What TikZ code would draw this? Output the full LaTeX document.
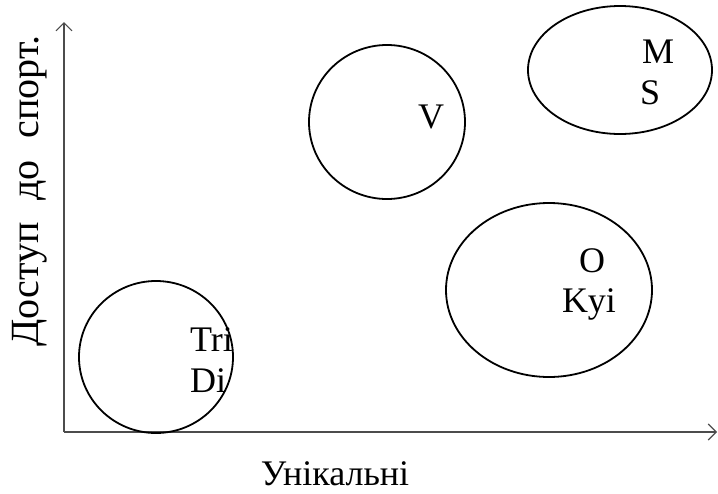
\documentclass[tikz,border=0pt]{standalone}
\usepackage{fontspec}
\setmainfont{Liberation Serif}
\usetikzlibrary{arrows.meta}
\tikzset{
  axisline/.style={draw=black!70, line width=1.4pt, -{Straight Barb[length=8pt, width=16pt, line width=1.1pt]}},
  zone/.style={draw=black, line width=1.8pt},
  lbl/.style={font=\fontsize{36}{42}\selectfont, inner sep=0pt},
  ylbl/.style={font=\fontsize{40}{46}\selectfont, inner sep=0pt},
}
\begin{document}
\begin{tikzpicture}[x=1pt, y=-1pt]
  \useasboundingbox (0,0) rectangle (718,493);
  % axes
  \coordinate (origin) at (64,432);
  \coordinate (ytip) at (64,22);
  \coordinate (xtip) at (717,432);
  \draw[axisline] (origin) -- (ytip);
  \draw[axisline] (origin) -- (xtip);
  % zones
  \draw[zone] (156,357) ellipse [x radius=77, y radius=76];
  \draw[zone] (387,122) ellipse [x radius=78, y radius=77];
  \draw[zone] (620,70) ellipse [x radius=92, y radius=64];
  \draw[zone] (549,290) ellipse [x radius=103, y radius=87];
  % zone labels
  \node[lbl, anchor=base west] (tri) at (190,351) {Tri};
  \node[lbl, anchor=base west] (di) at (190,392) {Di};
  \node[lbl, anchor=base] (v) at (431,128) {V};
  \node[lbl, anchor=base west] (m) at (642,63) {M};
  \node[lbl, anchor=base west] (s) at (640,104) {S};
  \node[lbl, anchor=base] (o) at (592,272) {O};
  \node[lbl, anchor=base] (kyi) at (589,312) {Kyi};
  % axis titles
  \node[lbl, anchor=base] (xtitle) at (335,485) {Унікальні};
  \node[ylbl, anchor=base, rotate=90] (ytitle) at (38,191) {Доступ\hspace{0.55em}до\hspace{0.55em}спорт.};
\end{tikzpicture}
\end{document}
